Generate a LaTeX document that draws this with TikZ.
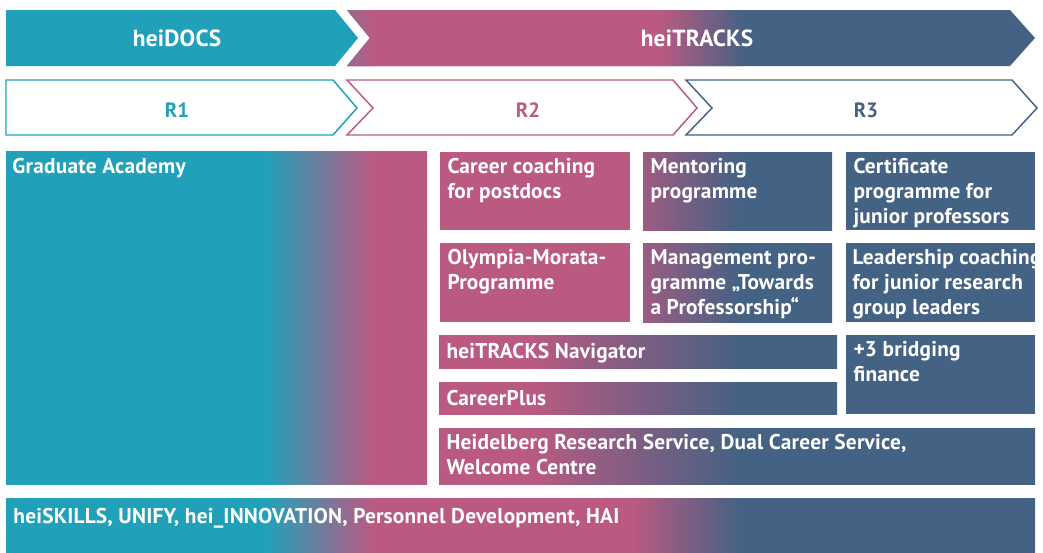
\documentclass[tikz,border=0pt]{standalone}
\usepackage{fontspec}
\setmainfont{PT Sans}[LetterSpace=1]
\definecolor{hteal}{RGB}{33,161,185}
\definecolor{hpink}{RGB}{186,90,130}
\definecolor{hblue}{RGB}{68,98,131}
\tikzset{every picture/.style={line width=0.75pt}}
\tikzset{
  lbl/.style={anchor=north west,inner sep=0pt,text=white,align=left,
    font=\bfseries\fontsize{16}{18.75}\selectfont,
    execute at begin node={\rule{0pt}{11.25pt}}},
  ttl/.style={inner sep=0pt,text=white,font=\bfseries\fontsize{17.5}{20}\selectfont},
  rlbl/.style={inner sep=0pt,font=\bfseries\fontsize{15.5}{18}\selectfont},
  pinkblue/.style 2 args={path picture={
    \fill[hblue] (0,0) rectangle (1043,553);
    \fill[hpink] (0,0) rectangle (#1+1,553);
    \shade[left color=hpink,right color=hblue] (#1,0) rectangle (#2,553);}},
  tealpink/.style 2 args={path picture={
    \fill[hpink] (0,0) rectangle (1043,553);
    \fill[hteal] (0,0) rectangle (#1+1,553);
    \shade[left color=hteal,right color=hpink] (#1,0) rectangle (#2,553);}},
  threeway/.style n args={4}{path picture={
    \fill[hblue] (0,0) rectangle (1043,553);
    \fill[hpink] (0,0) rectangle (#3+1,553);
    \fill[hteal] (0,0) rectangle (#1+1,553);
    \shade[left color=hteal,right color=hpink] (#1,0) rectangle (#2,553);
    \shade[left color=hpink,right color=hblue] (#3,0) rectangle (#4,553);}},
}

\begin{document}
\begin{tikzpicture}[x=0.75pt,y=0.75pt,yscale=-1,xscale=1]
\useasboundingbox (0,0) rectangle (1043,553);

%Shape: Arrow heiDOCS [id:dp4402817736150921]
\fill [hteal] (6,10) -- (335,10) -- (358,38) -- (335,66) -- (6,66) -- cycle ;
%Shape: Arrow heiTRACKS [id:dp2931774610385517]
\path [threeway={265}{373}{660}{745}] (347,10) -- (1010,10) -- (1035,38) -- (1010,66) -- (347,66) -- (370,38) -- cycle ;

%Shape: Chevron R1 [id:dp7719203884716402]
\draw [color=hteal ,line width=1.1] (6,80) -- (333,80) -- (357,108) -- (333,135) -- (6,135) -- cycle ;
%Shape: Chevron R2 [id:dp5583920117462289]
\draw [color=hpink ,line width=1.1] (347,80) -- (673,80) -- (697,108) -- (673,135) -- (347,135) -- (373,108) -- cycle ;
%Shape: Chevron R3 [id:dp0861295543127735]
\draw [color=hblue ,line width=1.1] (686,80) -- (1012,80) -- (1037,108) -- (1012,135) -- (686,135) -- (712,108) -- cycle ;

%Shape: Rectangle [id:dp3316027419852046]
\path [tealpink={265}{373}] (6,151) rectangle (427,484) ;
%Shape: Rectangle [id:dp9120458371622845]
\fill [hpink] (440,152) rectangle (630,230) ;
%Shape: Rectangle [id:dp6628104593317502]
\path [pinkblue={610}{740}] (643,152) rectangle (832,230) ;
%Shape: Rectangle [id:dp1850326947701263]
\fill [hblue] (846,152) rectangle (1035,230) ;
%Shape: Rectangle [id:dp7294406618135579]
\fill [hpink] (440,243) rectangle (630,322) ;
%Shape: Rectangle [id:dp2467839017655312]
\path [pinkblue={610}{740}] (643,243) rectangle (832,322) ;
%Shape: Rectangle [id:dp8853202139074416]
\fill [hblue] (846,243) rectangle (1035,322) ;
%Shape: Rectangle [id:dp4106675322981804]
\path [pinkblue={530}{740}] (439,335) rectangle (837,368) ;
%Shape: Rectangle [id:dp1379450826612958]
\path [pinkblue={530}{740}] (439,382) rectangle (837,414) ;
%Shape: Rectangle [id:dp9071735581249913]
\fill [hblue] (846,335) rectangle (1035,414) ;
%Shape: Rectangle [id:dp5520183370946471]
\path [pinkblue={530}{740}] (439,428) rectangle (1035,484) ;
%Shape: Rectangle [id:dp2684019837745106]
\path [threeway={265}{373}{633}{740}] (6,498) rectangle (1035,553) ;

% Text Nodes
\draw (177,38) node [ttl] (docs) {heiDOCS};
\draw (697,38) node [ttl] (tracks) {heiTRACKS};
\draw (177,110) node [rlbl,text=hteal] (rone) {R1};
\draw (528,110) node [rlbl,text=hpink] (rtwo) {R2};
\draw (866,110) node [rlbl,text=hblue] (rthree) {R3};

\draw (12,158) node [lbl] (grad) {Graduate Academy};
\draw (447,158) node [lbl] (coach) {Career coaching\\for postdocs};
\draw (650,158) node [lbl] (mentor) {Mentoring\\programme};
\draw (853,158) node [lbl] (cert) {Certificate\\programme for\\junior professors};
\draw (447,249) node [lbl] (olymp) {Olympia-Morata-\\Programme};
\draw (650,249) node [lbl] (manage) {Management pro-\\gramme „Towards\\a Professorship“};
\draw (852,249) node [lbl] (lead) {Leadership coaching\\for junior research\\group leaders};
\draw (446,343) node [lbl] (navi) {heiTRACKS Navigator};
\draw (853,341) node [lbl] (bridge) {+3 bridging\\finance};
\draw (446,390) node [lbl] (cplus) {CareerPlus};
\draw (446,434) node [lbl] (hrs) {Heidelberg Research Service, Dual Career Service,\\Welcome Centre};
\draw (13,508) node [lbl] (skills) {heiSKILLS, UNIFY, hei\_INNOVATION, Personnel Development, HAI};

\end{tikzpicture}
\end{document}
